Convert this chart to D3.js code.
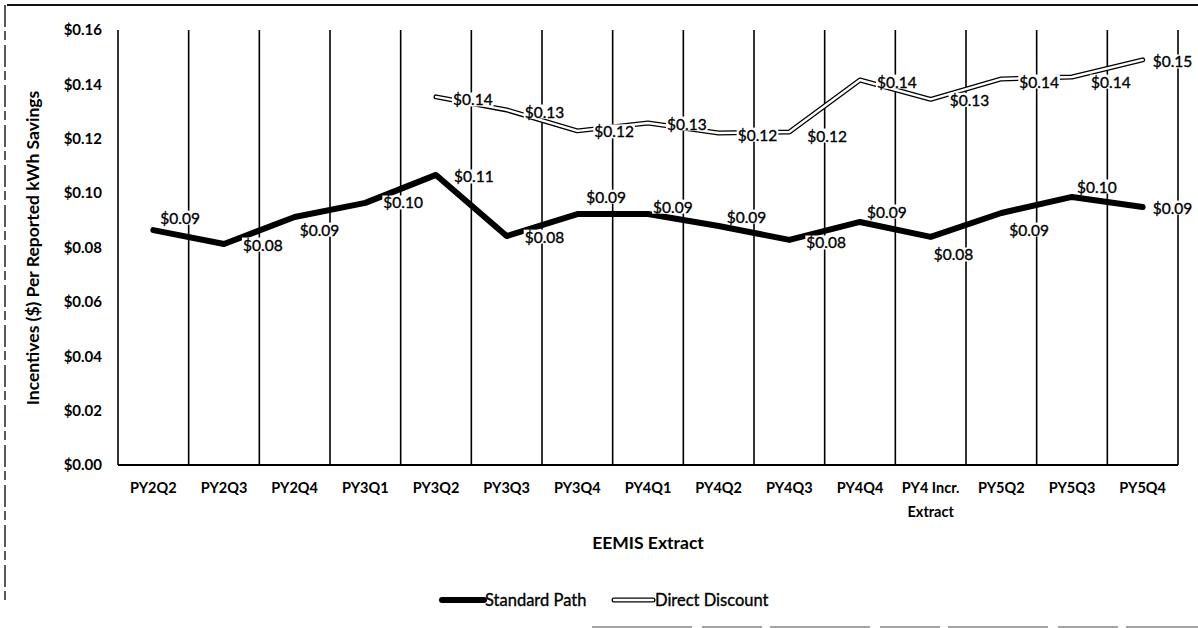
<!DOCTYPE html>
<html>
<head>
<meta charset="utf-8">
<script src="https://cdn.jsdelivr.net/npm/d3@7"></script>
<style>
  html, body { margin: 0; padding: 0; background: #fff; }
  svg { display: block; font-family: Lato, "Open Sans", sans-serif; }
</style>
</head>
<body>
<svg id="chart" width="1198" height="628"></svg>
<script>
// Quarterly EEMIS extracts
const categories = ["PY2Q2", "PY2Q3", "PY2Q4", "PY3Q1", "PY3Q2", "PY3Q3", "PY3Q4", "PY4Q1",
                    "PY4Q2", "PY4Q3", "PY4Q4", "PY4 Incr.|Extract", "PY5Q2", "PY5Q3", "PY5Q4"];

// Incentive dollars per reported kWh savings
const standardPath = [0.0864, 0.0813, 0.0912, 0.0964, 0.1067, 0.0842, 0.0923, 0.0923,
                      0.0879, 0.0828, 0.0894, 0.0839, 0.0927, 0.0986, 0.0949];
const directDiscount = [null, null, null, null, 0.1354, 0.1306, 0.1229, 0.1258,
                        0.1221, 0.1225, 0.1416, 0.1345, 0.1420, 0.1427, 0.1490];

const yTicks = [0, 0.02, 0.04, 0.06, 0.08, 0.10, 0.12, 0.14, 0.16];

// Data-label placement (left edge offset, vertical centre offset) per point
const nudgeStd = [[7,-12],[19,1],[5,13],[18,0],[18,2],[18,1],[9,-17],[5,-7],
                  [8,-9],[17,3],[7,-10],[3,18],[8,17],[5,-10],[10,1]];
const nudgeDd  = [null,null,null,null,[17,3],[18,2],[17,1],[19,1],
                  [19,2],[18,4],[17,2],[19,1],[18,3],[19,5],[10,2]];

const svg = d3.select("#chart");
const fmt = d3.format("$.2f");

const plot = { left: 118, right: 1178, top: 30, bottom: 465 };

const x = d3.scaleBand().domain(categories).range([plot.left, plot.right]).paddingInner(0).paddingOuter(0);
const y = d3.scaleLinear().domain([0, 0.16]).range([plot.bottom, plot.top]);
const cx = c => x(c) + x.bandwidth() / 2;

// page frame
const frame = svg.append("g");
frame.append("line").attr("x1", 7).attr("x2", 1198).attr("y1", 5).attr("y2", 5)
  .attr("stroke", "#111").attr("stroke-width", 2);
frame.append("line").attr("x1", 5).attr("x2", 5).attr("y1", 5).attr("y2", 600)
  .attr("stroke", "#222").attr("stroke-width", 1.5).attr("stroke-dasharray", "22,4,9,5");
frame.append("line").attr("x1", 592).attr("x2", 1198).attr("y1", 627).attr("y2", 627)
  .attr("stroke", "#888").attr("stroke-width", 1.5).attr("stroke-dasharray", "100,10,60,8");

// vertical gridlines at category boundaries
const bounds = categories.map(c => x(c)).concat([plot.right]);
svg.append("g").selectAll("line").data(bounds).join("line")
  .attr("x1", d => d).attr("x2", d => d)
  .attr("y1", plot.top).attr("y2", plot.bottom)
  .attr("stroke", "#000").attr("stroke-width", 1.6);

// x axis baseline
svg.append("line").attr("x1", plot.left).attr("x2", plot.right)
  .attr("y1", plot.bottom).attr("y2", plot.bottom)
  .attr("stroke", "#000").attr("stroke-width", 2);

// y axis tick labels
const yAxis = d3.axisLeft(y).tickValues(yTicks).tickFormat(fmt).tickSize(0).tickPadding(16);
const yg = svg.append("g").attr("transform", `translate(${plot.left},0)`).call(yAxis);
yg.select(".domain").remove();
yg.selectAll("text").attr("font-family", "Lato, sans-serif").attr("font-size", 15)
  .attr("font-weight", "bold").attr("fill", "#000");

// x axis category labels (multi-line where split by "|")
const xg = svg.append("g");
categories.forEach(c => {
  const t = xg.append("text").attr("x", cx(c)).attr("y", 493)
    .attr("text-anchor", "middle").attr("font-size", 14.5).attr("font-weight", "bold");
  c.split("|").forEach((part, i) => {
    t.append("tspan").attr("x", cx(c)).attr("dy", i === 0 ? 0 : 24).text(part);
  });
});

// axis titles
svg.append("text").attr("transform", "translate(39,248) rotate(-90)")
  .attr("text-anchor", "middle").attr("font-size", 17.5).attr("font-weight", "bold")
  .text("Incentives ($) Per Reported kWh Savings");
svg.append("text").attr("x", 648).attr("y", 549).attr("text-anchor", "middle")
  .attr("font-size", 17.5).attr("font-weight", "bold").text("EEMIS Extract");

// series lines
const ddLine = d3.line().defined(d => d[1] != null).x(d => cx(d[0])).y(d => y(d[1]));
const ddData = categories.map((c, i) => [c, directDiscount[i]]);
svg.append("path").datum(ddData).attr("d", ddLine).attr("fill", "none")
  .attr("stroke", "#000").attr("stroke-width", 5).attr("stroke-linejoin", "round").attr("stroke-linecap", "round");
svg.append("path").datum(ddData).attr("d", ddLine).attr("fill", "none")
  .attr("stroke", "#fff").attr("stroke-width", 2.4).attr("stroke-linejoin", "round").attr("stroke-linecap", "round");

const spData = categories.map((c, i) => [c, standardPath[i]]);
svg.append("path").datum(spData).attr("d", ddLine).attr("fill", "none")
  .attr("stroke", "#000").attr("stroke-width", 6).attr("stroke-linejoin", "round").attr("stroke-linecap", "round");

// data labels with white backing
function drawLabels(values, nudges) {
  const g = svg.append("g");
  values.forEach((v, i) => {
    if (v == null) return;
    const [dx, dy] = nudges[i];
    const px = cx(categories[i]) + dx, py = y(v) + dy;
    const lg = g.append("g");
    const t = lg.append("text").attr("x", px).attr("y", py).attr("dy", "0.36em")
      .attr("font-size", 15.5).attr("fill", "#000")
      .attr("stroke", "#000").attr("stroke-width", 0.35).text(fmt(v));
    const b = t.node().getBBox();
    lg.insert("rect", "text").attr("x", b.x - 1).attr("y", b.y + 2)
      .attr("width", b.width + 2).attr("height", b.height - 4).attr("fill", "#fff");
  });
}
drawLabels(directDiscount, nudgeDd);
drawLabels(standardPath, nudgeStd);

// legend
const leg = svg.append("g");
leg.append("line").attr("x1", 442).attr("x2", 484).attr("y1", 600).attr("y2", 600)
  .attr("stroke", "#000").attr("stroke-width", 6).attr("stroke-linecap", "round");
leg.append("text").attr("x", 485).attr("y", 600).attr("dy", "0.36em")
  .attr("font-size", 16.5).attr("stroke", "#000").attr("stroke-width", 0.35).text("Standard Path");
leg.append("line").attr("x1", 614).attr("x2", 653).attr("y1", 600).attr("y2", 600)
  .attr("stroke", "#000").attr("stroke-width", 5).attr("stroke-linecap", "round");
leg.append("line").attr("x1", 614).attr("x2", 653).attr("y1", 600).attr("y2", 600)
  .attr("stroke", "#fff").attr("stroke-width", 2.4).attr("stroke-linecap", "round");
leg.append("text").attr("x", 655).attr("y", 600).attr("dy", "0.36em")
  .attr("font-size", 16.5).attr("stroke", "#000").attr("stroke-width", 0.35).text("Direct Discount");
</script>
</body>
</html>
